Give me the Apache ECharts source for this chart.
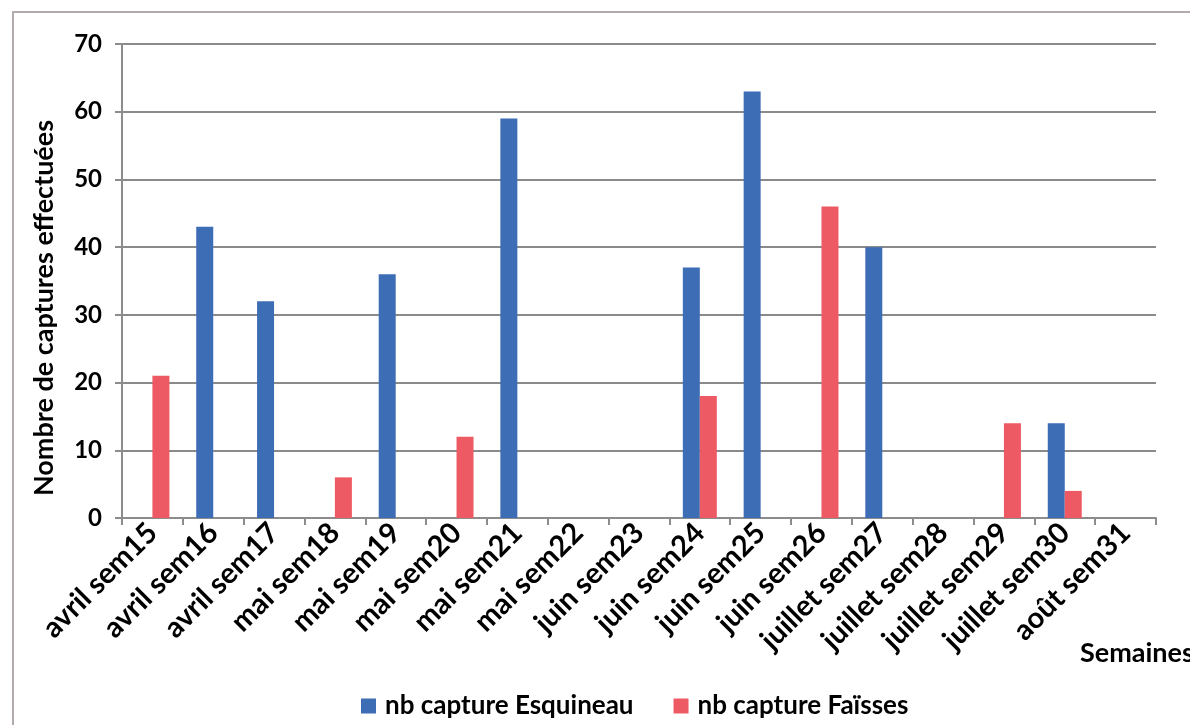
<!DOCTYPE html>
<html>
<head>
<meta charset="utf-8">
<script src="https://cdn.jsdelivr.net/npm/echarts@6/dist/echarts.min.js"></script>
<style>
  html, body { margin: 0; padding: 0; background: #fff; }
  #chart { width: 1190px; height: 725px; }
</style>
</head>
<body>
<div id="chart"></div>
<script>
// Weekly capture counts per trapping site
const weeks = [
  'avril sem15', 'avril sem16', 'avril sem17', 'mai sem18', 'mai sem19',
  'mai sem20', 'mai sem21', 'mai sem22', 'juin sem23', 'juin sem24',
  'juin sem25', 'juin sem26', 'juillet sem27', 'juillet sem28',
  'juillet sem29', 'juillet sem30', 'août sem31'
];
const esquineau = [0, 43, 32, 0, 36, 0, 59, 0, 0, 37, 63, 0, 40, 0, 0, 14, 0];
const faisses   = [21, 0, 0, 6, 0, 12, 0, 0, 0, 18, 0, 46, 0, 0, 14, 4, 0];
const yTicks = { min: 0, max: 70, interval: 10 };

const FONT = 'Lato, "Open Sans", sans-serif';
const chart = echarts.init(document.getElementById('chart'));

chart.setOption({
  backgroundColor: '#ffffff',
  animation: false,
  textStyle: { fontFamily: FONT, color: '#000' },
  grid: { left: 122, right: 34, top: 44, bottom: 207 },
  legend: {
    left: 356,
    top: 688,
    itemWidth: 15,
    itemHeight: 15,
    itemGap: 40,
    icon: 'rect',
    textStyle: { fontFamily: FONT, fontSize: 26, fontWeight: 'bold', color: '#000', padding: [0, 0, 0, 4] },
    data: ['nb capture Esquineau', 'nb capture Faïsses']
  },
  xAxis: {
    type: 'category',
    data: weeks,
    boundaryGap: true,
    axisLine: { lineStyle: { color: '#8c8c8c', width: 2 } },
    axisTick: { show: true, alignWithLabel: false, length: 7, lineStyle: { color: '#8c8c8c', width: 2 } },
    axisLabel: {
      interval: 0,
      rotate: 45,
      margin: 10,
      fontSize: 29,
      fontWeight: 'bold',
      color: '#000',
      fontFamily: FONT
    }
  },
  yAxis: {
    type: 'value',
    min: yTicks.min,
    max: yTicks.max,
    interval: yTicks.interval,
    axisLine: { show: true, lineStyle: { color: '#8c8c8c', width: 2 } },
    axisTick: { show: true, length: 7, lineStyle: { color: '#8c8c8c', width: 2 } },
    axisLabel: { fontSize: 24, fontWeight: 'bold', color: '#000', margin: 20, fontFamily: FONT },
    splitLine: { lineStyle: { color: '#8a8a8a', width: 2 } }
  },
  series: [
    {
      name: 'nb capture Esquineau',
      type: 'bar',
      data: esquineau,
      barWidth: 17,
      barGap: '0%',
      itemStyle: { color: '#3d6db5' }
    },
    {
      name: 'nb capture Faïsses',
      type: 'bar',
      data: faisses,
      barWidth: 17,
      barGap: '0%',
      itemStyle: { color: '#ee5a64' }
    }
  ],
  graphic: [
    {
      type: 'polyline',
      shape: { points: [[13, 725], [13, 12], [1190, 12]] },
      style: { stroke: '#b3abab', lineWidth: 2, fill: null },
      silent: true
    },
    {
      // vertical axis title
      type: 'text',
      x: 44,
      y: 308,
      rotation: Math.PI / 2,
      style: {
        text: 'Nombre de captures effectuées',
        fontFamily: FONT,
        fontSize: 27,
        fontWeight: 'bold',
        fill: '#000',
        align: 'center',
        verticalAlign: 'middle'
      }
    },
    {
      type: 'text',
      left: 1080,
      top: 640,
      style: { text: 'Semaines', fontFamily: FONT, fontSize: 27, fontWeight: 'bold', fill: '#000' }
    }
  ]
});
</script>
</body>
</html>
